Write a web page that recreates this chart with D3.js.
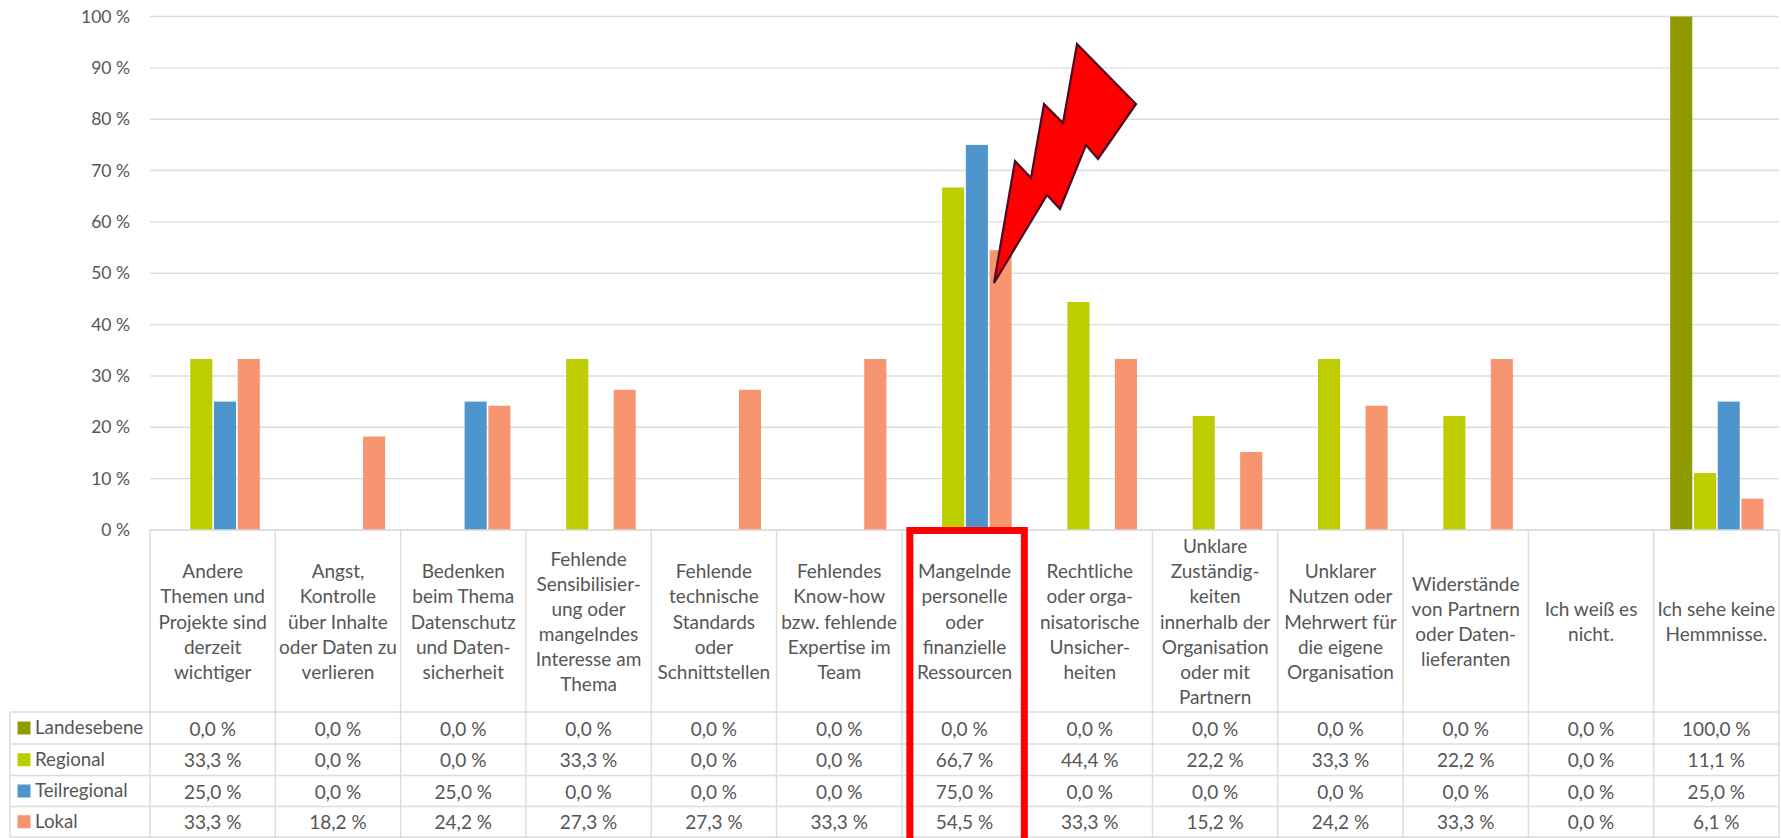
<!DOCTYPE html>
<html lang="de">
<head>
<meta charset="utf-8">
<script src="https://cdn.jsdelivr.net/npm/d3@7"></script>
<style>
html,body{margin:0;padding:0;background:#fff;overflow:hidden}
svg{display:block}
text{font-family:Lato,"Open Sans",sans-serif;fill:#565656}
</style>
</head>
<body>
<svg id="chart" width="1781" height="838"></svg>
<script>
const categories = [
  ["Andere","Themen und","Projekte sind","derzeit","wichtiger"],
  ["Angst,","Kontrolle","über Inhalte","oder Daten zu","verlieren"],
  ["Bedenken","beim Thema","Datenschutz","und Daten-","sicherheit"],
  ["Fehlende","Sensibilisier-","ung oder","mangelndes","Interesse am","Thema"],
  ["Fehlende","technische","Standards","oder","Schnittstellen"],
  ["Fehlendes","Know-how","bzw. fehlende","Expertise im","Team"],
  ["Mangelnde","personelle","oder","finanzielle","Ressourcen"],
  ["Rechtliche","oder orga-","nisatorische","Unsicher-","heiten"],
  ["Unklare","Zuständig-","keiten","innerhalb der","Organisation","oder mit","Partnern"],
  ["Unklarer","Nutzen oder","Mehrwert für","die eigene","Organisation"],
  ["Widerstände","von Partnern","oder Daten-","lieferanten"],
  ["Ich weiß es","nicht."],
  ["Ich sehe keine","Hemmnisse."]
];
const seriesNames = ["Landesebene","Regional","Teilregional","Lokal"];
const landesebene = [0,0,0,0,0,0,0,0,0,0,0,0,100];
const regional = [33.3,0,0,33.3,0,0,66.7,44.4,22.2,33.3,22.2,0,11.1];
const teilregional = [25,0,25,0,0,0,75,0,0,0,0,0,25];
const lokal = [33.3,18.2,24.2,27.3,27.3,33.3,54.5,33.3,15.2,24.2,33.3,0,6.1];
const seriesValues = [landesebene,regional,teilregional,lokal];
const seriesColors = ["#8f9900","#bdcd00","#4e95ce","#f79570"];
const yTicks = [0,10,20,30,40,50,60,70,80,90,100];

// Annotation shape and highlight (not data)
const boltPoints = [[994,283],[1015,161],[1031,178],[1044,104],[1063,123],[1077,44],[1136,104],[1098,159],[1086,145],[1060,209],[1047,195]];
const highlightIndex = 6;

const L = 150, R = 1779, T = 16.5, B = 530;
const headBottom = 712, rowLines = [712,744,775.5,806.5,837];
const labelLeft = 10;
const grid = "#dcdcdc";
const fmt = v => v.toFixed(1).replace(".", ",") + " %";

const svg = d3.select("#chart");
const x = d3.scaleBand().domain(d3.range(categories.length)).range([L, R]);
const xs = d3.scaleBand().domain(d3.range(seriesNames.length))
  .range([16.5, x.bandwidth() - 15.5]).paddingInner(0.07);
const y = d3.scaleLinear().domain([0,100]).range([B, T]);

// y axis + gridlines
const axis = d3.axisLeft(y).tickValues(yTicks).tickFormat(d => d + " %").tickSize(0).tickPadding(20);
const gAxis = svg.append("g").attr("transform", `translate(${L},0)`).call(axis);
gAxis.select(".domain").remove();
gAxis.selectAll("text").style("font-size","17.5px").style("font-family","Lato,sans-serif");
svg.append("g").selectAll("line").data(yTicks).join("line")
  .attr("x1", L).attr("x2", R).attr("y1", d => y(d)).attr("y2", d => y(d))
  .attr("stroke", grid).attr("stroke-width", 1.4);

// bars
svg.append("g").selectAll("g").data(seriesValues).join("g")
  .attr("fill", (d,i) => seriesColors[i])
  .each(function(vals, s){
    d3.select(this).selectAll("rect").data(vals.map((v,c)=>({v,c})).filter(d=>d.v>0)).join("rect")
      .attr("x", d => x(d.c) + xs(s))
      .attr("width", xs.bandwidth())
      .attr("y", d => y(d.v))
      .attr("height", d => y(0) - y(d.v));
  });

// table lines
const tbl = svg.append("g").attr("stroke", grid).attr("stroke-width", 1.4);
d3.range(categories.length + 1).forEach(i => {
  const px = i === categories.length ? R : x(i);
  tbl.append("line").attr("x1", px).attr("x2", px).attr("y1", B).attr("y2", 838);
});
tbl.append("line").attr("x1", L).attr("x2", R).attr("y1", B).attr("y2", B);
tbl.append("line").attr("x1", labelLeft).attr("x2", labelLeft).attr("y1", rowLines[0]).attr("y2", 838);
rowLines.forEach(ry => tbl.append("line").attr("x1", labelLeft).attr("x2", R).attr("y1", ry).attr("y2", ry));

// category headers
const head = svg.append("g").attr("text-anchor","middle").style("font-size","19px");
categories.forEach((lines, c) => {
  const cx = x(c) + x.bandwidth()/2, mid = (B + headBottom)/2, lh = 25.1;
  lines.forEach((t, i) => {
    head.append("text").attr("x", cx).attr("y", mid + (i - (lines.length-1)/2)*lh)
      .attr("dominant-baseline","central").text(t);
  });
});

// table rows
seriesNames.forEach((name, s) => {
  const cy = (rowLines[s] + rowLines[s+1]) / 2;
  svg.append("rect").attr("x", 17.5).attr("y", cy - 6.5).attr("width", 13).attr("height", 13).attr("fill", seriesColors[s]);
  svg.append("text").attr("x", 35).attr("y", cy - 1).attr("dominant-baseline","central").style("font-size","18.7px").text(name);
  seriesValues[s].forEach((v, c) => {
    svg.append("text").attr("x", x(c) + x.bandwidth()/2).attr("y", cy)
      .attr("text-anchor","middle").attr("dominant-baseline","central").style("font-size","19px").text(fmt(v));
  });
});

// highlight box
const hx0 = x(highlightIndex) + 8, hx1 = x(highlightIndex) + 122.5;
svg.append("path")
  .attr("d", `M${hx0},845V530.5H${hx1}V845`)
  .attr("fill","none").attr("stroke","#ff0000").attr("stroke-width",7);

// lightning bolt
svg.append("polygon").attr("points", boltPoints.map(p => p.join(",")).join(" "))
  .attr("fill","#ff0000").attr("stroke","#4a0a24").attr("stroke-width",2.2);
</script>
</body>
</html>
